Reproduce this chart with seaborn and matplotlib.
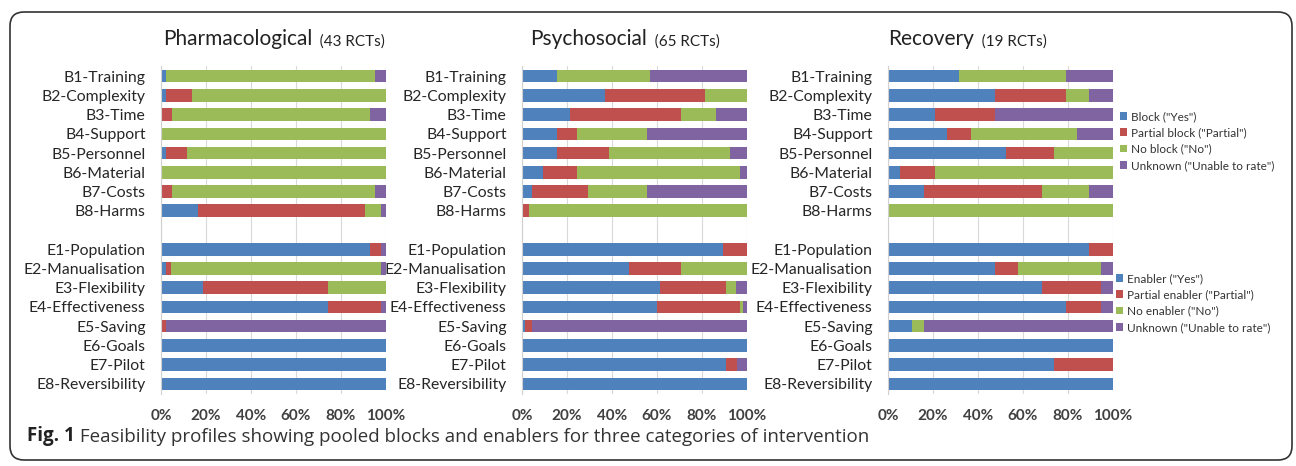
import numpy as np
import matplotlib
matplotlib.use("Agg")
import matplotlib.pyplot as plt
from matplotlib.patches import Patch, FancyBboxPatch
from matplotlib.transforms import IdentityTransform
import seaborn as sns

# Row labels (barriers, then enablers)
labels_b = ["B1-Training", "B2-Complexity", "B3-Time", "B4-Support",
            "B5-Personnel", "B6-Material", "B7-Costs", "B8-Harms"]
labels_e = ["E1-Population", "E2-Manualisation", "E3-Flexibility", "E4-Effectiveness",
            "E5-Saving", "E6-Goals", "E7-Pilot", "E8-Reversibility"]

# Percent of RCTs per rating (B1..B8, E1..E8)
pharm_yes = [2.3, 2.3, 0, 0, 2.3, 0, 0, 16.3, 93.0, 2.3, 18.6, 74.4, 0, 100, 100, 100]
pharm_partial = [0, 11.6, 4.7, 0, 9.3, 0, 4.7, 74.4, 4.7, 2.3, 55.8, 23.3, 2.3, 0, 0, 0]
pharm_no = [93.0, 86.1, 88.3, 100, 88.4, 100, 90.6, 7.0, 0, 93.1, 25.6, 0, 0, 0, 0, 0]
pharm_unknown = [4.7, 0, 7.0, 0, 0, 0, 4.7, 2.3, 2.3, 2.3, 0, 2.3, 97.7, 0, 0, 0]

psych_yes = [15.4, 36.9, 21.5, 15.4, 15.4, 9.2, 4.6, 0, 89.2, 47.7, 61.5, 60.0, 1.5, 100, 90.8, 100]
psych_partial = [0, 44.6, 49.2, 9.2, 23.1, 15.4, 24.6, 3.1, 10.8, 23.1, 29.2, 36.9, 3.1, 0, 4.6, 0]
psych_no = [41.5, 18.5, 15.4, 30.8, 53.8, 72.3, 26.2, 96.9, 0, 29.2, 4.6, 1.5, 0, 0, 0, 0]
psych_unknown = [43.1, 0, 13.9, 44.6, 7.7, 3.1, 44.6, 0, 0, 0, 4.7, 1.6, 95.4, 0, 4.6, 0]

rec_yes = [31.6, 47.4, 21.1, 26.3, 52.6, 5.3, 15.8, 0, 89.5, 47.4, 68.4, 78.9, 10.5, 100, 73.7, 100]
rec_partial = [0, 31.6, 26.3, 10.5, 21.1, 15.8, 52.6, 0, 10.5, 10.5, 26.3, 15.8, 0, 0, 26.3, 0]
rec_no = [47.4, 10.5, 0, 47.4, 26.3, 78.9, 21.1, 100, 0, 36.8, 0, 0, 5.3, 0, 0, 0]
rec_unknown = [21.0, 10.5, 52.6, 15.8, 0, 0, 10.5, 0, 0, 5.3, 5.3, 5.3, 84.2, 0, 0, 0]

titles = ["Pharmacological", "Psychosocial", "Recovery"]
n_rcts = [43, 65, 19]

block_legend = ['Block ("Yes")', 'Partial block ("Partial")', 'No block ("No")',
                'Unknown ("Unable to rate")']
enabler_legend = ['Enabler ("Yes")', 'Partial enabler ("Partial")', 'No enabler ("No")',
                  'Unknown ("Unable to rate")']

colors = ["#4F81BD", "#C0504D", "#9BBB59", "#8064A2"]
W, H = 1296, 466

sns.set_style("white")
plt.rcParams["font.family"] = ["Lato", "DejaVu Sans"]

fig = plt.figure(figsize=(W / 100, H / 100), dpi=100)


def fx(x):
    return x / W


def fy(y):
    return 1 - y / H


rows = labels_b + labels_e
order = labels_b + [" "] + labels_e
panels = [
    (pharm_yes, pharm_partial, pharm_no, pharm_unknown),
    (psych_yes, psych_partial, psych_no, psych_unknown),
    (rec_yes, rec_partial, rec_no, rec_unknown),
]
ax_left = [161, 522, 888]
ax_width = 225
title_x = [163, 530, 888]
ax_top, ax_bot = 66.4, 393.6

for i, segs in enumerate(panels):
    ax = fig.add_axes([fx(ax_left[i]), fy(ax_bot), ax_width / W, (ax_bot - ax_top) / H])
    cum = np.cumsum(np.array(segs), axis=0)
    # stacked bars: draw cumulative totals from the last level down
    for k in range(3, -1, -1):
        sns.barplot(x=cum[k], y=rows, order=order, orient="y", color=colors[k],
                    width=0.65, saturation=1, linewidth=0, ax=ax)
    ax.set_xlim(0, 100)
    ax.set_xticks(range(0, 101, 20))
    ax.set_xticklabels([f"{v}%" for v in range(0, 101, 20)])
    ax.set_xlabel("")
    ax.set_ylabel("")
    ax.grid(axis="x", color="#d9d9d9", lw=0.8)
    ax.set_axisbelow(True)
    for s in ["top", "right", "bottom"]:
        ax.spines[s].set_visible(False)
    ax.spines["left"].set_color("#d0d0d0")
    ax.spines["left"].set_linewidth(0.8)
    ax.set_yticks(np.arange(-0.5, len(order), 1), minor=True)
    ax.tick_params(axis="y", which="minor", length=4, color="#d0d0d0", width=0.8)
    ax.tick_params(axis="y", which="major", length=0, pad=11, labelsize=11.3,
                   labelcolor="#262626")
    ax.tick_params(axis="x", length=0, pad=11, labelsize=11, labelcolor="#404040")
    for t in ax.get_xticklabels():
        t.set_fontweight("bold")

    t1 = fig.text(fx(title_x[i]), fy(45), titles[i], fontsize=15, va="baseline",
                  color="#222222")
    ax.annotate(f"  ({n_rcts[i]} RCTs)", xy=(1, 0), xycoords=t1, va="bottom",
                fontsize=11, color="#222222", annotation_clip=False)

handles = [Patch(facecolor=c, edgecolor="none") for c in colors]
for labs, x0, y0 in [(block_legend, 1120, 111), (enabler_legend, 1116, 273)]:
    fig.legend(handles, labs, loc="upper left", bbox_to_anchor=(fx(x0), fy(y0)),
               frameon=False, fontsize=8.5, handlelength=0.6, handleheight=0.6,
               handletextpad=0.35, labelspacing=0.45, borderpad=0, borderaxespad=0,
               labelcolor="#333333")

# caption
cap = fig.text(fx(27), fy(441), "Fig. 1", fontsize=13.5, fontweight="bold",
               family=["Open Sans", "DejaVu Sans"], va="baseline", color="#222222")
fig.axes[0].annotate(" Feasibility profiles showing pooled blocks and enablers for three categories of intervention",
                     xy=(1, 0), xycoords=cap, va="bottom", fontsize=13.5,
                     family=["Open Sans", "DejaVu Sans"], color="#333333",
                     annotation_clip=False)

# rounded frame around the figure
frame = FancyBboxPatch((10, 6), 1282, 448, boxstyle="round,pad=0,rounding_size=14",
                       transform=IdentityTransform(), fill=False,
                       edgecolor="#333333", lw=1.2)
fig.add_artist(frame)

fig.savefig("out.png", dpi=100)
